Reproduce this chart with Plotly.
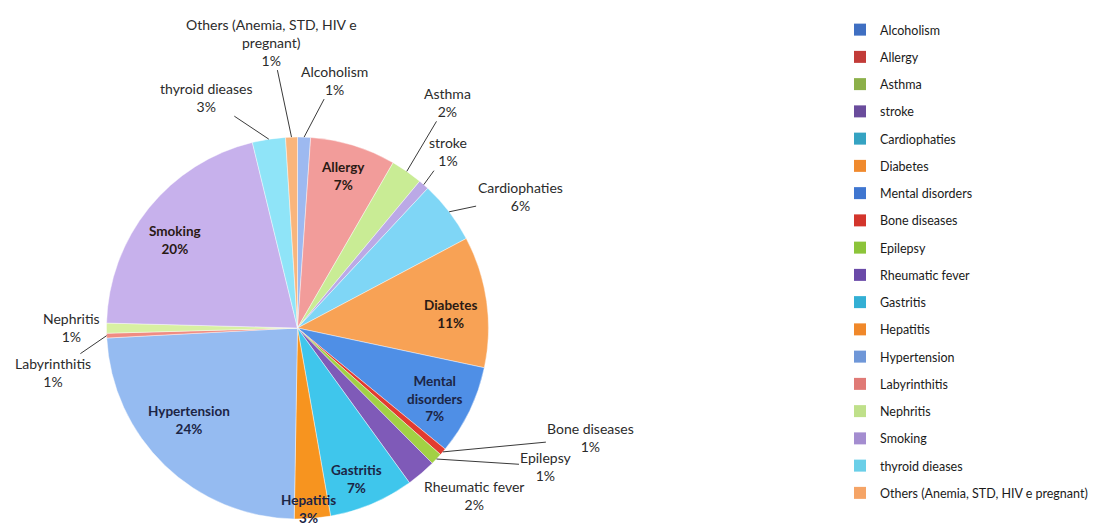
import math
import plotly.graph_objects as go

# ---------------- data ----------------
categories = ["Alcoholism", "Allergy", "Asthma", "stroke", "Cardiophaties", "Diabetes",
              "Mental disorders", "Bone diseases", "Epilepsy", "Rheumatic fever", "Gastritis",
              "Hepatitis", "Hypertension", "Labyrinthitis", "Nephritis", "Smoking",
              "thyroid dieases", "Others (Anemia, STD, HIV e pregnant)"]
values = [1.1, 7.25, 2.7, 0.9, 5.3, 11.1, 7.6, 0.6, 1.0, 2.5, 7.2, 3.05, 23.9, 0.4, 0.85, 20.8, 2.8, 1.0]
pct_labels = ["1%", "7%", "2%", "1%", "6%", "11%", "7%", "1%", "1%", "2%", "7%", "3%",
              "24%", "1%", "1%", "20%", "3%", "1%"]
label_names = ["Alcoholism", "Allergy", "Asthma", "stroke", "Cardiophaties", "Diabetes",
               "Mental<br>disorders", "Bone diseases", "Epilepsy", "Rheumatic fever", "Gastritis",
               "Hepatitis", "Hypertension", "Labyrinthitis", "Nephritis", "Smoking",
               "thyroid dieases", "Others (Anemia, STD, HIV e<br>pregnant)"]

# ---------------- style ----------------
colors = ["#9DB9F0", "#F29C9A", "#C9EC95", "#BBA9E6", "#7FD6F6", "#F8A255",
          "#4F8FE6", "#E23B30", "#A2D144", "#7F5AB8", "#3FC6EC", "#F7941F",
          "#95BBF1", "#F08C82", "#D8F0A2", "#C7B1EC", "#8FE4F8", "#F9B57C"]
legend_colors = ["#3F6FC2", "#C23B38", "#8CB04A", "#6A4C9C", "#35A3C2", "#F08A2E",
                 "#3F76D0", "#D3352C", "#8CC43A", "#6A4AA8", "#33AFD4", "#F0882A",
                 "#6F97D8", "#E07A76", "#BFE08A", "#A48DD0", "#6ACFE8", "#F5A466"]
inside = [False, True, False, False, False, True, True, False, False, False, True, True,
          True, False, False, True, False, False]
leader = [True, False, True, True, True, False, False, True, True, False, False, False,
          False, True, False, False, True, True]
# label offsets (px) from the slice's outer-edge midpoint
offsets = [(30, -57), (-10, 31), (41, -69), (24, -33), (71, -15), (-36, 12),
           (-35, -12), (148, -14), (110, 7), (53, 22), (-15, -25), (-4, -9),
           (24, -45), (-54, 37), (-35, -1), (26, 32), (-63, -42), (-20, -95)]

PAGE = 8  # default page margin around the figure
W, H = 1099 - PAGE, 525 - PAGE
cx, cy, R = 297.5 - PAGE, 328.0 - PAGE, 191.0
FONT = "Lato"

fig = go.Figure()
fig.add_trace(go.Pie(
    labels=categories, values=values, sort=False, direction="clockwise", rotation=0,
    textinfo="none", hoverinfo="label+percent", showlegend=False,
    marker=dict(colors=colors, line=dict(color="rgba(255,255,255,0.6)", width=0.7)),
    domain=dict(x=[(cx - R) / W, (cx + R) / W], y=[1 - (cy + R) / H, 1 - (cy - R) / H]),
))

# legend entries
for cat, col in zip(categories, legend_colors):
    fig.add_trace(go.Scatter(x=[None], y=[None], mode="markers", name=cat, legendgroup=cat,
                             marker=dict(symbol="square", size=7, color=col)))

# labels
total = sum(values)
cum = 0.0
annotations = []
for i, v in enumerate(values):
    mid = (cum + v / 2) / total * 2 * math.pi
    cum += v
    px = cx + R * math.sin(mid)
    py = cy - R * math.cos(mid)
    dx, dy = offsets[i]
    if inside[i]:
        txt = "<b>%s<br>%s</b>" % (label_names[i], pct_labels[i])
        fcol = "#1c2545" if i in (6, 10, 11, 12) else "#2a1a14"
        fsize = 13.5
    else:
        txt = "%s<br>%s" % (label_names[i], pct_labels[i])
        fcol = "#2b2b2b"
        fsize = 14
    annotations.append(dict(
        x=px / W, y=1 - py / H, xref="paper", yref="paper",
        ax=dx, ay=dy, showarrow=True, arrowhead=0, arrowwidth=1, standoff=0,
        arrowcolor="#3a3a3a" if leader[i] else "rgba(0,0,0,0)",
        text=txt, xanchor="center", yanchor="middle", align="center",
        font=dict(family=FONT, size=fsize, color=fcol),
    ))

fig.update_layout(
    width=W, height=H, margin=dict(l=0, r=0, t=0, b=0),
    paper_bgcolor="white", plot_bgcolor="white",
    xaxis=dict(visible=False), yaxis=dict(visible=False),
    annotations=annotations,
    legend=dict(x=(840 - PAGE) / W, y=1 - (15 - PAGE) / H, xanchor="left", yanchor="top",
                font=dict(family=FONT, size=12.5, color="#1a1a1a"),
                tracegroupgap=8, itemsizing="constant", bgcolor="rgba(0,0,0,0)"),
)

fig.write_html("out.html")
